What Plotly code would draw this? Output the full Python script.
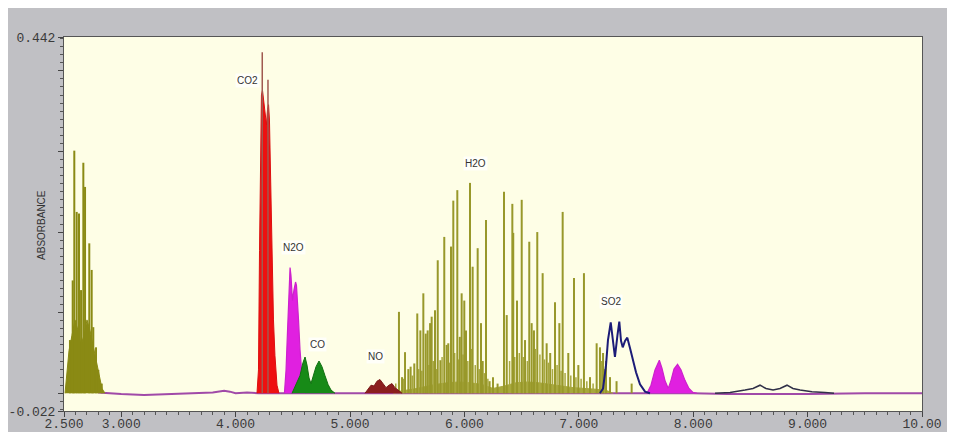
import plotly.graph_objects as go

# ---------------- data ----------------
# H2O, left cluster: stick lines (wavelength, absorbance)
h2o_left_x = [2.552, 2.576, 2.590, 2.611, 2.631, 2.649, 2.669, 2.684, 2.721, 2.742, 2.756, 2.780, 2.800, 2.830]
h2o_left_h = [0.066, 0.140, 0.301, 0.225, 0.223, 0.128, 0.286, 0.256, 0.186, 0.153, 0.082, 0.057, 0.029, 0.012]
# H2O, left cluster: dense lower envelope
h2o_left_env_x = [2.509, 2.526, 2.544, 2.570, 2.596, 2.622, 2.649, 2.675, 2.701, 2.727, 2.753, 2.780, 2.806, 2.832, 2.858]
h2o_left_env_y = [0.0, 0.022, 0.053, 0.072, 0.091, 0.078, 0.060, 0.072, 0.091, 0.078, 0.060, 0.041, 0.022, 0.006, 0.0]

# H2O, main band: stick lines
h2o_main_x = [5.428, 5.455, 5.481, 5.510, 5.530, 5.562, 5.588, 5.615, 5.641, 5.662, 5.679, 5.700,
              5.714, 5.743, 5.767, 5.790, 5.824, 5.845, 5.859, 5.883, 5.903, 5.938, 5.960, 5.976,
              5.999, 6.014, 6.049, 6.072, 6.116, 6.145, 6.160, 6.189, 6.220, 6.250, 6.290, 6.346,
              6.370, 6.419, 6.427, 6.460, 6.501, 6.530, 6.567, 6.588, 6.608, 6.637, 6.684, 6.719,
              6.750, 6.792, 6.830, 6.859, 6.908, 6.958, 6.996, 7.045, 7.098, 7.156, 7.185, 7.212,
              7.238, 7.273, 7.330, 7.462]
h2o_main_h = [0.101, 0.020, 0.051, 0.030, 0.033, 0.037, 0.099, 0.078, 0.124, 0.074, 0.078, 0.087,
              0.095, 0.103, 0.165, 0.041, 0.194, 0.060, 0.062, 0.182, 0.239, 0.252, 0.070, 0.124,
              0.115, 0.078, 0.261, 0.157, 0.180, 0.087, 0.040, 0.215, 0.015, 0.020, 0.012, 0.250,
              0.097, 0.235, 0.199, 0.115, 0.240, 0.066, 0.188, 0.087, 0.078, 0.200, 0.149, 0.062,
              0.050, 0.113, 0.087, 0.225, 0.050, 0.143, 0.035, 0.149, 0.020, 0.062, 0.057, 0.050,
              0.040, 0.020, 0.015, 0.012]
# H2O, main band: weaker lines near the base
h2o_weak_x = [5.400, 5.470, 5.545, 5.600, 5.628, 5.690, 5.728, 5.755, 5.805, 5.870, 5.915, 5.950,
              5.988, 6.030, 6.060, 6.095, 6.130, 6.175, 6.205, 6.395, 6.440, 6.480, 6.515, 6.550,
              6.620, 6.660, 6.700, 6.735, 6.770, 6.810, 6.845, 6.880, 6.930, 6.975, 7.020, 7.070,
              7.125, 7.200, 7.225]
h2o_weak_h = [0.012, 0.018, 0.022, 0.030, 0.028, 0.035, 0.040, 0.030, 0.045, 0.038, 0.050, 0.042,
              0.048, 0.040, 0.055, 0.035, 0.030, 0.025, 0.018, 0.040, 0.045, 0.050, 0.045, 0.040,
              0.055, 0.048, 0.042, 0.038, 0.030, 0.035, 0.028, 0.025, 0.022, 0.020, 0.018, 0.015,
              0.012, 0.040, 0.030]
# H2O, main band: dense lower envelope
h2o_main_env_x = [5.38, 5.45, 5.55, 5.65, 5.75, 5.85, 5.95, 6.05, 6.15, 6.25, 6.35, 6.45, 6.55,
                  6.65, 6.75, 6.85, 6.95, 7.05, 7.15, 7.25, 7.30]
h2o_main_env_y = [0.0, 0.003, 0.005, 0.008, 0.011, 0.013, 0.014, 0.013, 0.011, 0.006, 0.009, 0.013,
                  0.014, 0.013, 0.011, 0.009, 0.007, 0.006, 0.005, 0.003, 0.0]

# CO2 band
co2_x = [4.187, 4.200, 4.209, 4.218, 4.226, 4.235, 4.244, 4.257, 4.270, 4.279, 4.288, 4.296, 4.305,
         4.314, 4.323, 4.331, 4.344, 4.362, 4.379]
co2_y = [0.0, 0.029, 0.177, 0.314, 0.370, 0.376, 0.364, 0.352, 0.333, 0.352, 0.358, 0.339, 0.277,
         0.202, 0.140, 0.091, 0.047, 0.010, 0.0]
co2_peak_x = [4.233, 4.283]
co2_peak_h = [0.423, 0.389]

# N2O bands
n2o_x = [4.427, 4.441, 4.454, 4.467, 4.476, 4.484, 4.497, 4.510, 4.524, 4.532, 4.541, 4.550, 4.563,
         4.576, 4.589, 4.607]
n2o_y = [0.0, 0.029, 0.078, 0.128, 0.156, 0.146, 0.115, 0.128, 0.138, 0.134, 0.115, 0.091, 0.054,
         0.022, 0.006, 0.0]
n2o_b_x = [7.596, 7.631, 7.666, 7.704, 7.727, 7.753, 7.782, 7.806, 7.832, 7.863, 7.893, 7.928,
           7.963, 7.998, 8.033]
n2o_b_y = [0.0, 0.010, 0.029, 0.041, 0.031, 0.016, 0.006, 0.016, 0.030, 0.036, 0.029, 0.016,
           0.006, 0.001, 0.0]

# CO band
co_x = [4.493, 4.528, 4.563, 4.589, 4.607, 4.624, 4.642, 4.659, 4.677, 4.703, 4.729, 4.755, 4.781,
        4.808, 4.834, 4.869]
co_y = [0.0, 0.010, 0.022, 0.038, 0.045, 0.035, 0.019, 0.012, 0.020, 0.033, 0.040, 0.033, 0.022,
        0.011, 0.004, 0.0]

# NO band
no_x = [5.131, 5.157, 5.184, 5.210, 5.236, 5.262, 5.288, 5.315, 5.341, 5.367, 5.393, 5.420, 5.455]
no_y = [0.0, 0.005, 0.010, 0.009, 0.015, 0.017, 0.012, 0.007, 0.010, 0.012, 0.007, 0.004, 0.0]

# SO2 bands
so2_x = [7.185, 7.212, 7.238, 7.255, 7.279, 7.295, 7.316, 7.338, 7.354, 7.369, 7.384, 7.404, 7.424,
         7.448, 7.474, 7.500, 7.535, 7.579, 7.622]
so2_y = [0.0, 0.006, 0.035, 0.066, 0.088, 0.072, 0.045, 0.072, 0.089, 0.065, 0.057, 0.065, 0.069,
         0.056, 0.041, 0.026, 0.011, 0.002, 0.0]
so2_b_x = [8.191, 8.322, 8.453, 8.523, 8.584, 8.636, 8.698, 8.759, 8.820, 8.872, 8.934, 9.038,
           9.152, 9.231]
so2_b_y = [0.0, 0.001, 0.004, 0.006, 0.010, 0.006, 0.004, 0.006, 0.010, 0.006, 0.004, 0.002,
           0.001, 0.0]

# baseline
base_x = [2.80, 3.00, 3.20, 3.40, 3.60, 3.80, 3.90, 3.95, 4.00, 4.10, 4.20, 4.40, 5.00, 6.00,
          7.00, 8.00, 8.30, 9.00, 9.50, 10.00]
base_y = [0.001, -0.001, -0.002, -0.001, 0.000, 0.001, 0.003, 0.002, 0.000, 0.001, 0.000, 0.000,
          0.000, 0.000, 0.000, 0.000, -0.001, -0.001, 0.000, 0.000]

# labels
label_text = ["CO2", "N2O", "CO", "NO", "H2O", "SO2"]
label_x = [4.108, 4.502, 4.720, 5.227, 6.093, 7.281]
label_y = [0.388, 0.181, 0.060, 0.046, 0.285, 0.114]

# axis ticks
x_tickvals = [2.5, 3, 4, 5, 6, 7, 8, 9, 10]
x_ticktext = ["2.500", "3.000", "4.000", "5.000", "6.000", "7.000", "8.000", "9.000", "10.00"]
y_tickvals = [-0.022, 0.0, 0.1, 0.2, 0.3, 0.4, 0.442]
y_ticktext = ["-0.022", "", "", "", "", "", "0.442"]
x_range = [2.5, 10.0]
y_range = [-0.022, 0.442]


def sticks(xs, hs):
    X, Y = [], []
    for x, h in zip(xs, hs):
        X += [x, x, None]
        Y += [0, h, None]
    return X, Y


OLIVE = "#8a8a14"
OLIVE_LINE = "#98982a"

fig = go.Figure()

fig.add_trace(go.Scatter(x=base_x, y=base_y, mode="lines",
                         line=dict(color="#a04aa8", width=2), hoverinfo="skip"))

# H2O
fig.add_trace(go.Scatter(x=h2o_left_env_x, y=h2o_left_env_y, mode="lines", fill="tozeroy",
                         fillcolor=OLIVE, line=dict(color=OLIVE, width=1)))
sx, sy = sticks(h2o_left_x, h2o_left_h)
fig.add_trace(go.Scatter(x=sx, y=sy, mode="lines", line=dict(color=OLIVE, width=2)))
fig.add_trace(go.Scatter(x=h2o_main_env_x, y=h2o_main_env_y, mode="lines", fill="tozeroy",
                         fillcolor="#a8a83a", line=dict(color="#a8a83a", width=1)))
sx, sy = sticks(h2o_weak_x, h2o_weak_h)
fig.add_trace(go.Scatter(x=sx, y=sy, mode="lines", line=dict(color="#a8a840", width=1.5)))
sx, sy = sticks(h2o_main_x, h2o_main_h)
fig.add_trace(go.Scatter(x=sx, y=sy, mode="lines", line=dict(color=OLIVE_LINE, width=2)))

# CO2
fig.add_trace(go.Scatter(x=co2_x, y=co2_y, mode="lines", fill="tozeroy",
                         fillcolor="#ee1010", line=dict(color="#dd1010", width=1)))
sx, sy = sticks(co2_peak_x, co2_peak_h)
fig.add_trace(go.Scatter(x=sx, y=sy, mode="lines", line=dict(color="#a05a50", width=1.5)))

# N2O
fig.add_trace(go.Scatter(x=n2o_x, y=n2o_y, mode="lines", fill="tozeroy",
                         fillcolor="#e020e0", line=dict(color="#cc22cc", width=1.2)))
fig.add_trace(go.Scatter(x=n2o_b_x, y=n2o_b_y, mode="lines", fill="tozeroy",
                         fillcolor="#e020e0", line=dict(color="#cc22cc", width=1.2)))

# CO
fig.add_trace(go.Scatter(x=co_x, y=co_y, mode="lines", fill="tozeroy",
                         fillcolor="#178a17", line=dict(color="#107010", width=1)))

# NO
fig.add_trace(go.Scatter(x=no_x, y=no_y, mode="lines", fill="tozeroy",
                         fillcolor="#8b1e1e", line=dict(color="#7a1818", width=1)))

# SO2
fig.add_trace(go.Scatter(x=so2_x, y=so2_y, mode="lines",
                         line=dict(color="#1c1c78", width=2)))
fig.add_trace(go.Scatter(x=so2_b_x, y=so2_b_y, mode="lines",
                         line=dict(color="#303048", width=1.5)))

for t, x, y in zip(label_text, label_x, label_y):
    fig.add_annotation(x=x, y=y, text=t, showarrow=False,
                       font=dict(family="Liberation Sans", size=10, color="#333333"),
                       bgcolor="rgba(255,255,255,0.75)", borderpad=1)

fig.add_annotation(xref="paper", yref="paper", x=-0.027, y=0.497, xanchor="center",
                   yanchor="middle", text="ABSORBANCE", textangle=-90, showarrow=False,
                   font=dict(family="Liberation Sans", size=10, color="#333333"))

mono = dict(family="Liberation Mono", size=13, color="#3a3a3a")

# the page adds an 8px body margin, so the plot area is placed 8px up/left
fig.update_layout(
    width=955, height=432,
    margin=dict(l=56, r=41, t=29, b=29, autoexpand=False),
    paper_bgcolor="#c0c0c4",
    plot_bgcolor="#fefee6",
    showlegend=False,
    xaxis=dict(range=x_range, tickmode="array", tickvals=x_tickvals, ticktext=x_ticktext,
               ticks="outside", ticklen=5, tickcolor="#444", tickfont=mono, automargin=False,
               ticklabelstandoff=-5,
               showline=True, linecolor="#555", linewidth=1, mirror=True,
               showgrid=False, zeroline=False,
               minor=dict(ticks="outside", ticklen=3, tickcolor="#555", tickmode="linear",
                          tick0=2.5, dtick=0.1, showgrid=False)),
    yaxis=dict(range=y_range, tickmode="array", tickvals=y_tickvals, ticktext=y_ticktext,
               ticks="outside", ticklen=5, tickcolor="#444", tickfont=mono, automargin=False,
               showline=True, linecolor="#555", linewidth=1, mirror=True,
               showgrid=False, zeroline=False,
               minor=dict(ticks="outside", ticklen=3, tickcolor="#555", tickmode="linear",
                          tick0=0, dtick=0.01, showgrid=False)),
)

fig.write_html("out.html")
